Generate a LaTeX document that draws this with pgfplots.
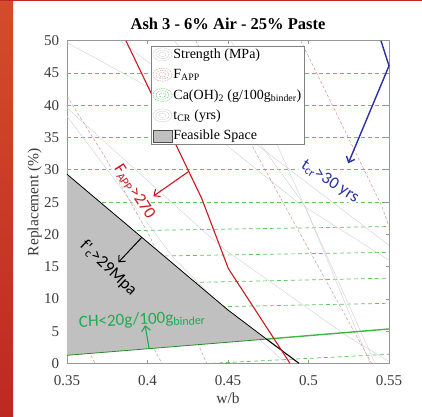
\documentclass[border=0pt]{standalone}
\usepackage{fontspec}
\setmainfont{Liberation Serif}
\newfontfamily\calibri{Carlito}
\usepackage{pgfplots}
\pgfplotsset{compat=1.18}
\usetikzlibrary{arrows.meta}

\definecolor{slidered}{RGB}{190,40,34}
\definecolor{slideorange}{RGB}{212,76,44}
\definecolor{fappred}{RGB}{204,24,30}
\definecolor{tcrblue}{RGB}{44,48,160}
\definecolor{chgreen}{RGB}{62,184,62}
\definecolor{chdark}{RGB}{40,140,40}
\definecolor{chtext}{RGB}{34,170,80}
\definecolor{feasgray}{RGB}{192,192,192}
\definecolor{contgray}{RGB}{212,212,212}
\definecolor{contred}{RGB}{212,150,150}
\definecolor{contgreen}{RGB}{96,196,96}
\definecolor{axisgray}{RGB}{150,150,150}
\definecolor{legframe}{RGB}{130,130,130}
\definecolor{ticktext}{RGB}{60,60,60}

\pgfplotsset{
  grayc/.style={contgray, line width=0.45pt, forget plot},
  redc/.style={contred, line width=0.5pt, dash pattern=on 3pt off 2pt, forget plot},
  greenc/.style={contgreen, line width=0.7pt, dash pattern=on 4pt off 3pt, forget plot},
  barb/.style={-{Straight Barb[length=5pt,width=9pt]}},
}

\begin{document}
\begin{tikzpicture}
\path[use as bounding box] (0,0) rectangle (422pt,416pt);
\fill[white] (0,0) rectangle (422pt,416pt);
\shade[top color=slideorange, bottom color=slidered] (0,0) rectangle (13pt,416pt);
\fill[slidered] (0,414.8pt) rectangle (422pt,416pt);

\begin{axis}[
  at={(67pt,52.7pt)}, anchor=south west,
  scale only axis, width=322pt, height=322.6pt,
  xmin=0.35, xmax=0.55, ymin=0, ymax=50,
  xtick={0.35,0.4,0.45,0.5,0.55},
  xticklabels={0.35,0.4,0.45,0.5,0.55},
  ytick={0,5,...,50},
  tick align=inside, major tick length=3pt,
  axis line style={axisgray, line width=0.5pt},
  tick style={axisgray, line width=0.5pt},
  ticklabel style={font=\fontsize{15}{15}\selectfont, text=ticktext, inner sep=0pt},
  xticklabel style={anchor=base, yshift=-22.4pt},
  yticklabel style={anchor=base east, xshift=-7.7pt, yshift=-5pt},
  /pgf/number format/assume math mode=true,
  xlabel={w/b}, ylabel={Replacement (\%)},
  label style={font=\fontsize{15.5}{16}\selectfont, text=ticktext},
  xlabel style={at={(0.5,-0.1246)}, anchor=base},
  ylabel style={at={(-0.0891,0.5)}, anchor=base},
  title={\textbf{Ash 3 - 6\% Air - 25\% Paste}},
  title style={at={(0.5,1.0167)}, anchor=base, yshift=0pt, font=\fontsize{16.5}{17}\selectfont},
  clip=false,
  legend cell align=left,
  legend style={at={(0.261,0.984)}, anchor=north west, draw=legframe, fill=white,
    font=\fontsize{14}{14}\selectfont, inner xsep=1.5pt, inner ysep=1.5pt,
    row sep=6.8pt, nodes={inner sep=1.2pt}},
]

% legend entries
\addlegendimage{legend image code/.code={
  \draw[contgray, line width=0.4pt] (9.5pt,0) ellipse [x radius=9.5pt, y radius=6.5pt];
  \draw[contgray, line width=0.4pt] (9.5pt,0) ellipse [x radius=6.5pt, y radius=4.3pt];
  \draw[contgray, line width=0.4pt] (9.5pt,0) ellipse [x radius=3.5pt, y radius=2.2pt];}}
\addlegendentry{Strength (MPa)}
\addlegendimage{legend image code/.code={
  \draw[contred, line width=0.4pt, dash pattern=on 1.5pt off 1pt] (9.5pt,0) ellipse [x radius=9.5pt, y radius=6.5pt];
  \draw[contred, line width=0.4pt, dash pattern=on 1.5pt off 1pt] (9.5pt,0) ellipse [x radius=6.5pt, y radius=4.3pt];
  \draw[contred, line width=0.4pt, dash pattern=on 1.5pt off 1pt] (9.5pt,0) ellipse [x radius=3.5pt, y radius=2.2pt];}}
\addlegendentry{F\textsubscript{APP}}
\addlegendimage{legend image code/.code={
  \draw[contgreen, line width=0.4pt, dash pattern=on 1.5pt off 1pt] (9.5pt,0) ellipse [x radius=9.5pt, y radius=6.5pt];
  \draw[contgreen, line width=0.4pt, dash pattern=on 1.5pt off 1pt] (9.5pt,0) ellipse [x radius=6.5pt, y radius=4.3pt];
  \draw[contgreen, line width=0.4pt, dash pattern=on 1.5pt off 1pt] (9.5pt,0) ellipse [x radius=3.5pt, y radius=2.2pt];}}
\addlegendentry{Ca(OH)\textsubscript{2} (g/100g\textsubscript{binder})}
\addlegendimage{legend image code/.code={
  \draw[contgray, line width=0.4pt] (9.5pt,0) ellipse [x radius=9.5pt, y radius=6.5pt];
  \draw[contgray, line width=0.4pt] (9.5pt,0) ellipse [x radius=6.5pt, y radius=4.3pt];
  \draw[contgray, line width=0.4pt] (9.5pt,0) ellipse [x radius=3.5pt, y radius=2.2pt];}}
\addlegendentry{t\textsubscript{CR} (yrs)}
\addlegendimage{legend image code/.code={
  \draw[black!70, line width=0.5pt, fill=feasgray] (0,-6pt) rectangle (19pt,6pt);}}
\addlegendentry{Feasible Space}

% Ca(OH)2 contours
\addplot[greenc] coordinates {(0.35,45) (0.55,45)};
\addplot[greenc] coordinates {(0.35,40) (0.55,40)};
\addplot[greenc] coordinates {(0.35,35) (0.55,35)};
\addplot[greenc] coordinates {(0.35,30) (0.55,30)};
\addplot[greenc] coordinates {(0.35,25) (0.55,25)};
\addplot[greenc] coordinates {(0.35,20.4) (0.55,21.2)};
\addplot[greenc] coordinates {(0.35,16.4) (0.55,17.2)};
\addplot[greenc] coordinates {(0.35,12.1) (0.55,13.2)};
\addplot[greenc] coordinates {(0.35,8.3) (0.55,9.3)};
\addplot[greenc] coordinates {(0.44,0) (0.55,1.4)};

% strength contours
\addplot[grayc] coordinates {(0.35,49.7) (0.411,41.4) (0.4936,24.9) (0.55,16)};
\addplot[grayc] coordinates {(0.383,50) (0.4668,34.1) (0.55,18.3)};
\addplot[grayc] coordinates {(0.35,39.6) (0.4338,20.7) (0.4481,17.6) (0.5247,4.1) (0.55,0.3)};
\addplot[grayc] coordinates {(0.35,38.3) (0.4163,16.3) (0.4442,9.3) (0.475,2.5) (0.486,0)};
% t_CR contours
\addplot[grayc] coordinates {(0.452,50) (0.4792,34.6) (0.5413,0)};
\addplot[grayc] coordinates {(0.4166,50) (0.4709,33.7) (0.4978,24.4) (0.5382,0)};

% F_APP contours
\addplot[redc] coordinates {(0.35,41.4) (0.3738,31.9) (0.4016,19.6) (0.4119,13.9) (0.4368,0)};
\addplot[redc] coordinates {(0.43,50) (0.4657,33.4) (0.4853,24.4) (0.5392,0)};
\addplot[redc] coordinates {(0.4952,50) (0.5455,24.4) (0.55,21.2)};
\addplot[redc] coordinates {(0.35,26.5) (0.409,0)};
\addplot[redc] coordinates {(0.35,8) (0.3675,0)};

% feasible space
\addplot[fill=feasgray, draw=none, forget plot] coordinates {(0.35,29.3) (0.45,8.26) (0.4739,3.75) (0.35,1.24)} -- cycle;

% labels of the limits (white patches keep contours off the text)
\node[rotate=-57, text=fappred, fill=white, inner sep=0.5pt, font=\calibri\fontsize{17}{17}\selectfont] at (axis cs:0.3918,26.6) {F\textsubscript{APP}>270};
\node[rotate=-33, text=tcrblue, fill=white, inner sep=0.5pt, font=\calibri\fontsize{17}{17}\selectfont] at (axis cs:0.5133,28.15) {t\textsubscript{cr}>30 yrs};
\node[rotate=-44, text=black, font=\calibri\fontsize{17}{17}\selectfont] at (axis cs:0.3757,14.7) {f'\textsubscript{c}>29Mpa};
\node[rotate=2.5, text=chtext, font=\calibri\fontsize{17}{17}\selectfont] at (axis cs:0.3967,6.7) {CH<20g/100g\textsubscript{binder}};

% limit curves
\addplot[chdark, line width=0.8pt, forget plot] coordinates {(0.35,1.24) (0.4739,3.75)};
\addplot[chgreen, line width=1.4pt, forget plot] coordinates {(0.4739,3.75) (0.55,5.32)};
\addplot[black, line width=0.8pt, forget plot] coordinates {(0.35,29.3) (0.45,8.26) (0.4739,3.75)};
\addplot[black, line width=1.1pt, forget plot] coordinates {(0.4739,3.75) (0.4941,0)};
\addplot[fappred, line width=1.1pt, forget plot] coordinates {(0.3866,50) (0.4336,25.6) (0.4502,14.7) (0.4885,0)};
\addplot[tcrblue, line width=1.4pt, barb, forget plot] coordinates {(0.545,50) (0.55,46.1) (0.5247,31.0)};

% direction arrows
\addplot[fappred, line width=1.1pt, barb, forget plot] coordinates {(0.4254,29.7) (0.4036,25.9)};
\addplot[black, line width=1pt, barb, forget plot] coordinates {(0.3964,19.5) (0.3819,15.65)};
\addplot[chtext, line width=1.1pt, barb, forget plot] coordinates {(0.401,2.27) (0.3985,5.9)};

\end{axis}
\end{tikzpicture}
\end{document}
